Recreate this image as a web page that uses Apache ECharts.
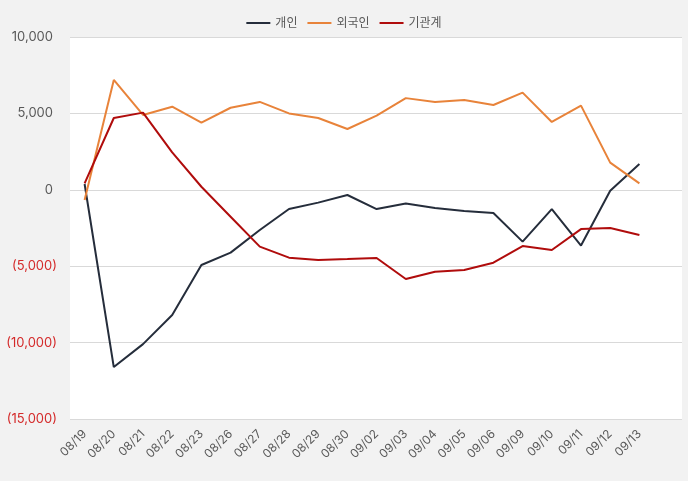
<!DOCTYPE html>
<html><head><meta charset="utf-8">
<script src="https://cdn.jsdelivr.net/npm/echarts@6/dist/echarts.min.js"></script>
<style>html,body{margin:0;padding:0;background:#f2f2f2;}#c{width:688px;height:481px;}</style>
</head><body><div id="c"></div>
<script>
const categories = ['08/19','08/20','08/21','08/22','08/23','08/26','08/27','08/28','08/29','08/30','09/02','09/03','09/04','09/05','09/06','09/09','09/10','09/11','09/12','09/13'];
const individual = [380,-11600,-10100,-8190,-4920,-4110,-2630,-1260,-840,-340,-1260,-890,-1190,-1390,-1520,-3390,-1260,-3650,-60,1690];
const foreign = [-670,7190,4900,5440,4390,5370,5750,5000,4700,3980,4850,6000,5750,5880,5550,6360,4440,5510,1780,420];
const institution = [420,4700,5050,2450,200,-1760,-3720,-4440,-4590,-4530,-4460,-5840,-5360,-5250,-4770,-3680,-3940,-2570,-2500,-2960];
const seriesNames = ['개인','외국인','기관계'];
const yTicks = {min:-15000, max:10000, interval:5000};

const FONT = "Inter, 'Noto Sans CJK KR', sans-serif";
const chart = echarts.init(document.getElementById('c'));
function fmt(v){
  const s = Math.abs(v).toLocaleString('en-US');
  return v < 0 ? '{neg|(' + s + ')}' : '{pos|' + s + '}';
}
chart.setOption({
  backgroundColor:'#f2f2f2',
  animation:false,
  legend:{
    data:seriesNames, left:'center', top:12, itemWidth:24, itemHeight:2, itemGap:10,
    icon:'rect',
    textStyle:{color:'#595959', fontSize:12, fontFamily:FONT}
  },
  grid:[
    {left:70, right:6, top:37, bottom:62, show:true, backgroundColor:'#ffffff', borderWidth:0},
    {left:70, right:34, top:37, bottom:62}
  ],
  xAxis:[
    {gridIndex:0, type:'value', show:false, min:0, max:1},
    {gridIndex:1, type:'category', data:categories, boundaryGap:true,
     axisLine:{show:false}, axisTick:{show:false},
     axisLabel:{rotate:45, interval:0, color:'#595959', fontSize:12, fontFamily:FONT, margin:13}}
  ],
  yAxis:[
    {gridIndex:0, type:'value', min:yTicks.min, max:yTicks.max, interval:yTicks.interval,
     axisLine:{show:false}, axisTick:{show:false},
     splitLine:{lineStyle:{color:'#d9d9d9', width:1}},
     axisLabel:{margin:13, fontSize:13, fontFamily:FONT, formatter:fmt,
       rich:{pos:{color:'#595959', fontSize:13, fontFamily:FONT, padding:[0,4,0,0]}, neg:{color:'#d42a2a', fontSize:13, fontFamily:FONT}}}},
    {gridIndex:1, type:'value', min:yTicks.min, max:yTicks.max, interval:yTicks.interval, show:false, splitLine:{show:false}}
  ],
  series:[
    {name:seriesNames[0], type:'line', xAxisIndex:1, yAxisIndex:1, data:individual, symbol:'none', lineStyle:{color:'#252d3b', width:2}, itemStyle:{color:'#252d3b'}},
    {name:seriesNames[1], type:'line', xAxisIndex:1, yAxisIndex:1, data:foreign, symbol:'none', lineStyle:{color:'#e8833a', width:2}, itemStyle:{color:'#e8833a'}},
    {name:seriesNames[2], type:'line', xAxisIndex:1, yAxisIndex:1, data:institution, symbol:'none', lineStyle:{color:'#b00c0c', width:2}, itemStyle:{color:'#b00c0c'}}
  ]
});
</script></body></html>
